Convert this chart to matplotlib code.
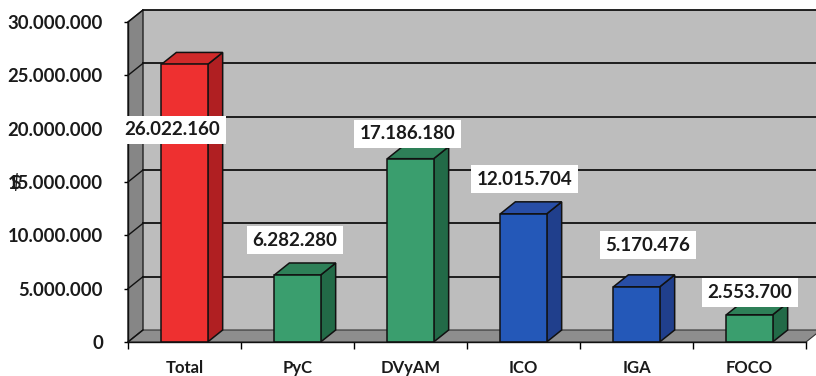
import matplotlib.pyplot as plt
from matplotlib.patches import Polygon
from matplotlib.ticker import FuncFormatter, FixedLocator

categories = ["Total", "PyC", "DVyAM", "ICO", "IGA", "FOCO"]
values = [26022160, 6282280, 17186180, 12015704, 5170476, 2553700]
groups = ["total", "green", "green", "blue", "blue", "green"]

# front / side / top face colours per group
PALETTE = {
    "total": ("#ee3030", "#b01f22", "#d02a2a"),
    "green": ("#3a9e6e", "#226a47", "#2e8058"),
    "blue": ("#2458b8", "#203f8c", "#284ea6"),
}

# value-label placement (points) relative to the top of each bar
LABEL_DX = [-9, -2, -2, 1, 8, 0]
LABEL_DY = [-47, 25, 18, 25, 30, 16]

YMAX = 30_000_000
BAR_W = 0.41
DEPTH_X = 15 / 113          # depth offset in category units
DEPTH_Y = 12 * YMAX / 320   # depth offset in value units

plt.rcParams["font.family"] = ["Lato", "DejaVu Sans"]
plt.rcParams["font.weight"] = "bold"

fig = plt.figure(figsize=(8.16, 3.76), dpi=100)
fig.patch.set_facecolor("white")
ax = fig.add_axes([128 / 816, 34 / 376, 688 / 816, 320 / 376])
x_left, x_right = -0.5, -0.5 + 688 / 113
ax.set_xlim(x_left, x_right)
ax.set_ylim(0, YMAX)
ax.patch.set_visible(False)

n = len(categories)
x_end = n - 0.5

# back wall, side wall and floor
wall = Polygon([(x_left + DEPTH_X, DEPTH_Y), (x_right + 1, DEPTH_Y),
                (x_right + 1, YMAX + DEPTH_Y), (x_left + DEPTH_X, YMAX + DEPTH_Y)],
               closed=True, facecolor="#bdbdbd", edgecolor="none", zorder=0, clip_on=False)
side = Polygon([(x_left, 0), (x_left + DEPTH_X, DEPTH_Y),
                (x_left + DEPTH_X, YMAX + DEPTH_Y), (x_left, YMAX)],
               closed=True, facecolor="#868686", edgecolor="#222222", lw=1.0, zorder=1, clip_on=False)
floor = Polygon([(x_left, 0), (x_end, 0), (x_end + DEPTH_X, DEPTH_Y), (x_left + DEPTH_X, DEPTH_Y)],
                closed=True, facecolor="#8e8e8e", edgecolor="#333333", lw=0.8, zorder=1, clip_on=False)
for p in (wall, side, floor):
    ax.add_patch(p)

# gridlines across the back wall, joined to the axis through the side wall
for v in range(0, YMAX + 1, 5_000_000):
    if v > 0:
        ax.plot([x_left + DEPTH_X, x_right + 1], [v + DEPTH_Y, v + DEPTH_Y],
                color="#111111", lw=1.3, zorder=2, clip_on=False)
    ax.plot([x_left, x_left + DEPTH_X], [v, v + DEPTH_Y],
            color="#111111", lw=1.0, zorder=2, clip_on=False)

# 3D columns: front face via ax.bar, side and top faces as polygons
xs = list(range(n))
fronts = [PALETTE[g][0] for g in groups]
ax.bar(xs, values, width=BAR_W, color=fronts, edgecolor="#111111", lw=1.1, zorder=4)
for x, v, g in zip(xs, values, groups):
    _, side_c, top_c = PALETTE[g]
    r = x + BAR_W / 2
    l = x - BAR_W / 2
    ax.add_patch(Polygon([(r, 0), (r + DEPTH_X, DEPTH_Y), (r + DEPTH_X, v + DEPTH_Y), (r, v)],
                         closed=True, facecolor=side_c, edgecolor="#111111", lw=1.1, zorder=3))
    ax.add_patch(Polygon([(l, v), (r, v), (r + DEPTH_X, v + DEPTH_Y), (l + DEPTH_X, v + DEPTH_Y)],
                         closed=True, facecolor=top_c, edgecolor="#111111", lw=1.1, zorder=3))

fmt = lambda v: f"{v:,.0f}".replace(",", ".")

for x, v, dx, dy in zip(xs, values, LABEL_DX, LABEL_DY):
    ax.annotate(fmt(v), (x, v), xytext=(dx, dy), textcoords="offset points",
                ha="center", va="center", fontsize=13.5, fontweight="bold", color="#1a1a1a",
                bbox=dict(boxstyle="square,pad=0.3", facecolor="white", edgecolor="none"),
                zorder=6)

# axes: front edges, ticks and labels
for s in ("top", "right"):
    ax.spines[s].set_visible(False)
ax.spines["left"].set_bounds(0, YMAX)
ax.spines["bottom"].set_bounds(x_left, x_end)
for s in ("left", "bottom"):
    ax.spines[s].set_linewidth(1.0)
    ax.spines[s].set_color("#111111")
    ax.spines[s].set_zorder(5)

ax.yaxis.set_major_locator(FixedLocator(range(0, YMAX + 1, 5_000_000)))
ax.yaxis.set_major_formatter(FuncFormatter(lambda v, _: fmt(v)))
ax.tick_params(axis="y", direction="out", length=3, width=1.0, pad=15,
               labelsize=13.3, labelcolor="#1a1a1a")

ax.set_xticks(xs)
ax.set_xticklabels(categories)
ax.set_xticks([i - 0.5 for i in range(n + 1)], minor=True)
ax.tick_params(axis="x", which="major", length=0, pad=13, labelsize=12, labelcolor="#1a1a1a")
ax.tick_params(axis="x", which="minor", length=5, width=1.0, direction="out")

# currency marker on the value axis
fig.text(16 / 816, 1 - 183 / 376, "$", ha="center", va="center",
         fontsize=13, fontweight="bold", color="#1a1a1a")

fig.savefig("out.png", dpi=100)
